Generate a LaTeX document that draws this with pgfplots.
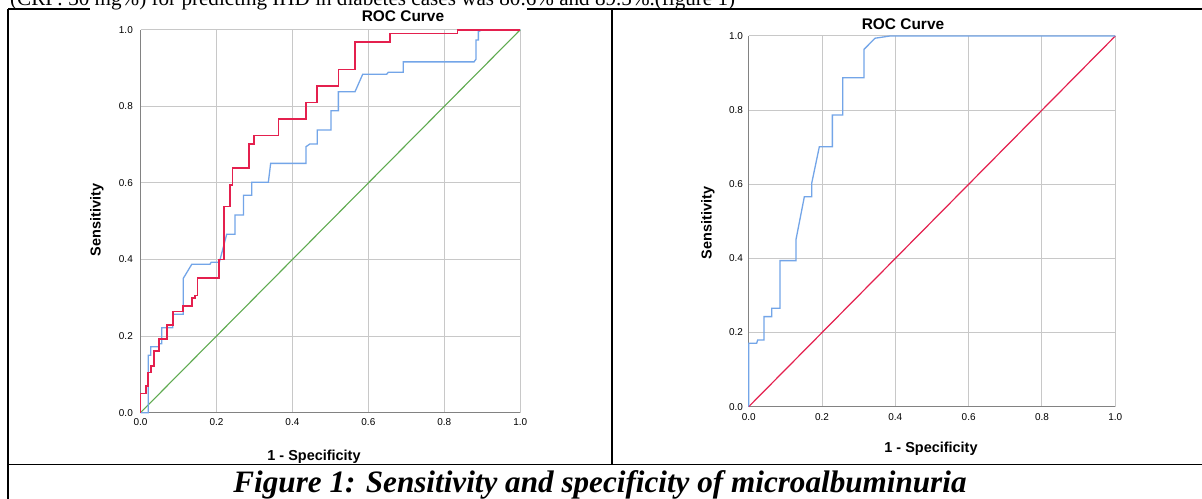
\documentclass[border=0pt]{standalone}
\usepackage{fontspec}
\setmainfont{Liberation Serif}
\newfontfamily\arial{Liberation Sans}
\usepackage{pgfplots}
\pgfplotsset{compat=1.18}
\definecolor{rocred}{RGB}{228,32,78}
\definecolor{rocblue}{RGB}{115,165,232}
\definecolor{rocgreen}{RGB}{95,170,80}
\definecolor{gridgray}{RGB}{200,200,200}
\definecolor{axgray}{RGB}{130,130,130}
\pgfplotsset{rocaxis/.style={
  scale only axis, xmin=0, xmax=1, ymin=0, ymax=1,
  xtick={0,0.2,0.4,0.6,0.8,1}, ytick={0,0.2,0.4,0.6,0.8,1},
  xticklabels={0.0,0.2,0.4,0.6,0.8,1.0}, yticklabels={0.0,0.2,0.4,0.6,0.8,1.0},
  axis x line*=bottom, axis y line*=left,
  axis line style={draw=axgray, line width=1.3bp, -},
  grid=major, major grid style={draw=gridgray, line width=1bp},
  major tick length=0pt,
  tick label style={font=\arial\fontsize{10}{12}\selectfont, text=black, inner sep=0pt},
  clip=false,
}}
\begin{document}
\begin{tikzpicture}
\useasboundingbox (0,0) rectangle (1202bp,499bp);
\clip (0,0) rectangle (1202bp,499bp);
\fill[white] (0,0) rectangle (1202bp,499bp);
% table lines
\draw[line width=1.2bp] (8bp,0) -- (8bp,490bp);
\draw[line width=1.2bp] (8bp,490bp) -- (90bp,490bp);
\draw[line width=1.2bp] (527bp,490bp) -- (1202bp,490bp);
\draw[line width=1.2bp] (612bp,490bp) -- (612bp,34.5bp);
\draw[line width=1.2bp] (8bp,34.5bp) -- (1202bp,34.5bp);
% text
\node[anchor=base west, inner sep=0pt] at (10bp,493.5bp) {\resizebox{725bp}{!}{(CRP: 30 mg\%) for predicting IHD in diabetes cases was 80.6\% and 89.5\%.(figure 1)}};
\node[anchor=base, inner sep=0pt] at (600bp,6.5bp) {\resizebox{733bp}{!}{\bfseries\itshape Figure 1: Sensitivity and specificity of microalbuminuria}};

% left chart
\begin{axis}[rocaxis, at={(140.5bp,86.3bp)}, anchor=south west, width=379.8bp, height=383bp,
  yticklabel style={xshift=-7.5bp}, xticklabel style={yshift=-5.5bp}]
\addplot[rocgreen, line width=1.1bp] coordinates {(0,0) (1,1)};
\addplot[rocblue, line width=1.3bp] coordinates {
(0,0) (0.0206,0) (0.0206,0.15) (0.027,0.15) (0.027,0.172) (0.0496,0.172) (0.0496,0.18) (0.0557,0.18) (0.0557,0.222) (0.0847,0.222) (0.0847,0.257) (0.1128,0.257) (0.1128,0.351) (0.135,0.3875) (0.183,0.3875) (0.186,0.3927) (0.2076,0.3927) (0.227,0.466) (0.2488,0.466) (0.2488,0.516) (0.271,0.516) (0.271,0.568) (0.2927,0.568) (0.2927,0.6015) (0.3366,0.6015) (0.3427,0.651) (0.4357,0.651) (0.4357,0.6945) (0.446,0.7016) (0.4655,0.7016) (0.4655,0.738) (0.5016,0.738) (0.5016,0.7886) (0.521,0.7886) (0.521,0.838) (0.5648,0.838) (0.585,0.8835) (0.648,0.8835) (0.6526,0.889) (0.692,0.889) (0.692,0.916) (0.8782,0.916) (0.8834,0.923) (0.8834,0.973) (0.8896,0.973) (0.8896,0.995) (0.9,1) (1,1)};
\addplot[rocred, line width=1.7bp] coordinates {
(0,0) (0,0.05) (0.0145,0.05) (0.0145,0.07) (0.0206,0.07) (0.0206,0.105) (0.027,0.105) (0.027,0.122) (0.0355,0.122) (0.0355,0.162) (0.0496,0.162) (0.0496,0.192) (0.069,0.192) (0.069,0.229) (0.0847,0.229) (0.0847,0.264) (0.1128,0.264) (0.1128,0.279) (0.135,0.279) (0.135,0.299) (0.1435,0.299) (0.1435,0.306) (0.150,0.306) (0.150,0.351) (0.2076,0.351) (0.2076,0.40) (0.2207,0.40) (0.2207,0.538) (0.2356,0.538) (0.2356,0.5945) (0.2426,0.5945) (0.2426,0.638) (0.2865,0.638) (0.2865,0.702) (0.2997,0.702) (0.2997,0.724) (0.3637,0.724) (0.3637,0.767) (0.4357,0.767) (0.4357,0.810) (0.4655,0.810) (0.4655,0.853) (0.521,0.853) (0.521,0.896) (0.5648,0.896) (0.5648,0.967) (0.6569,0.967) (0.6569,0.99) (0.835,0.99) (0.835,1) (1,1)};
\end{axis}

% right chart
\begin{axis}[rocaxis, at={(748.7bp,92.3bp)}, anchor=south west, width=366.6bp, height=370.7bp,
  yticklabel style={xshift=-5.5bp}, xticklabel style={yshift=-6.5bp}]
\addplot[rocred, line width=1.2bp] coordinates {(0,0) (1,1)};
\addplot[rocblue, line width=1.3bp] coordinates {
(0,0) (0,0.171) (0.0217,0.171) (0.0245,0.18) (0.0417,0.18) (0.0417,0.243) (0.0627,0.243) (0.0627,0.2654) (0.0854,0.2654) (0.0854,0.394) (0.1291,0.394) (0.1291,0.4515) (0.1518,0.5665) (0.1718,0.5665) (0.1718,0.6026) (0.1927,0.7014) (0.2282,0.7014) (0.2282,0.787) (0.2564,0.787) (0.2564,0.8876) (0.3146,0.8876) (0.3146,0.964) (0.3446,0.994) (0.3855,1) (1,1)};
\end{axis}

% chart titles and labels
\node[font=\arial\bfseries\fontsize{15.5}{18}\selectfont, anchor=base, inner sep=0pt] at (403bp,477.3bp) {ROC Curve};
\node[font=\arial\bfseries\fontsize{15.5}{18}\selectfont, anchor=base, inner sep=0pt] at (903bp,469.5bp) {ROC Curve};
\node[font=\arial\bfseries\fontsize{14.5}{17}\selectfont, rotate=90, inner sep=0pt] at (97bp,279bp) {Sensitivity};
\node[font=\arial\bfseries\fontsize{14.5}{17}\selectfont, rotate=90, inner sep=0pt] at (708bp,276bp) {Sensitivity};
\node[font=\arial\bfseries\fontsize{14.5}{17}\selectfont, inner sep=0pt] at (314bp,42bp) {1 - Specificity};
\node[font=\arial\bfseries\fontsize{14.5}{17}\selectfont, inner sep=0pt] at (931bp,50bp) {1 - Specificity};
\end{tikzpicture}
\end{document}
